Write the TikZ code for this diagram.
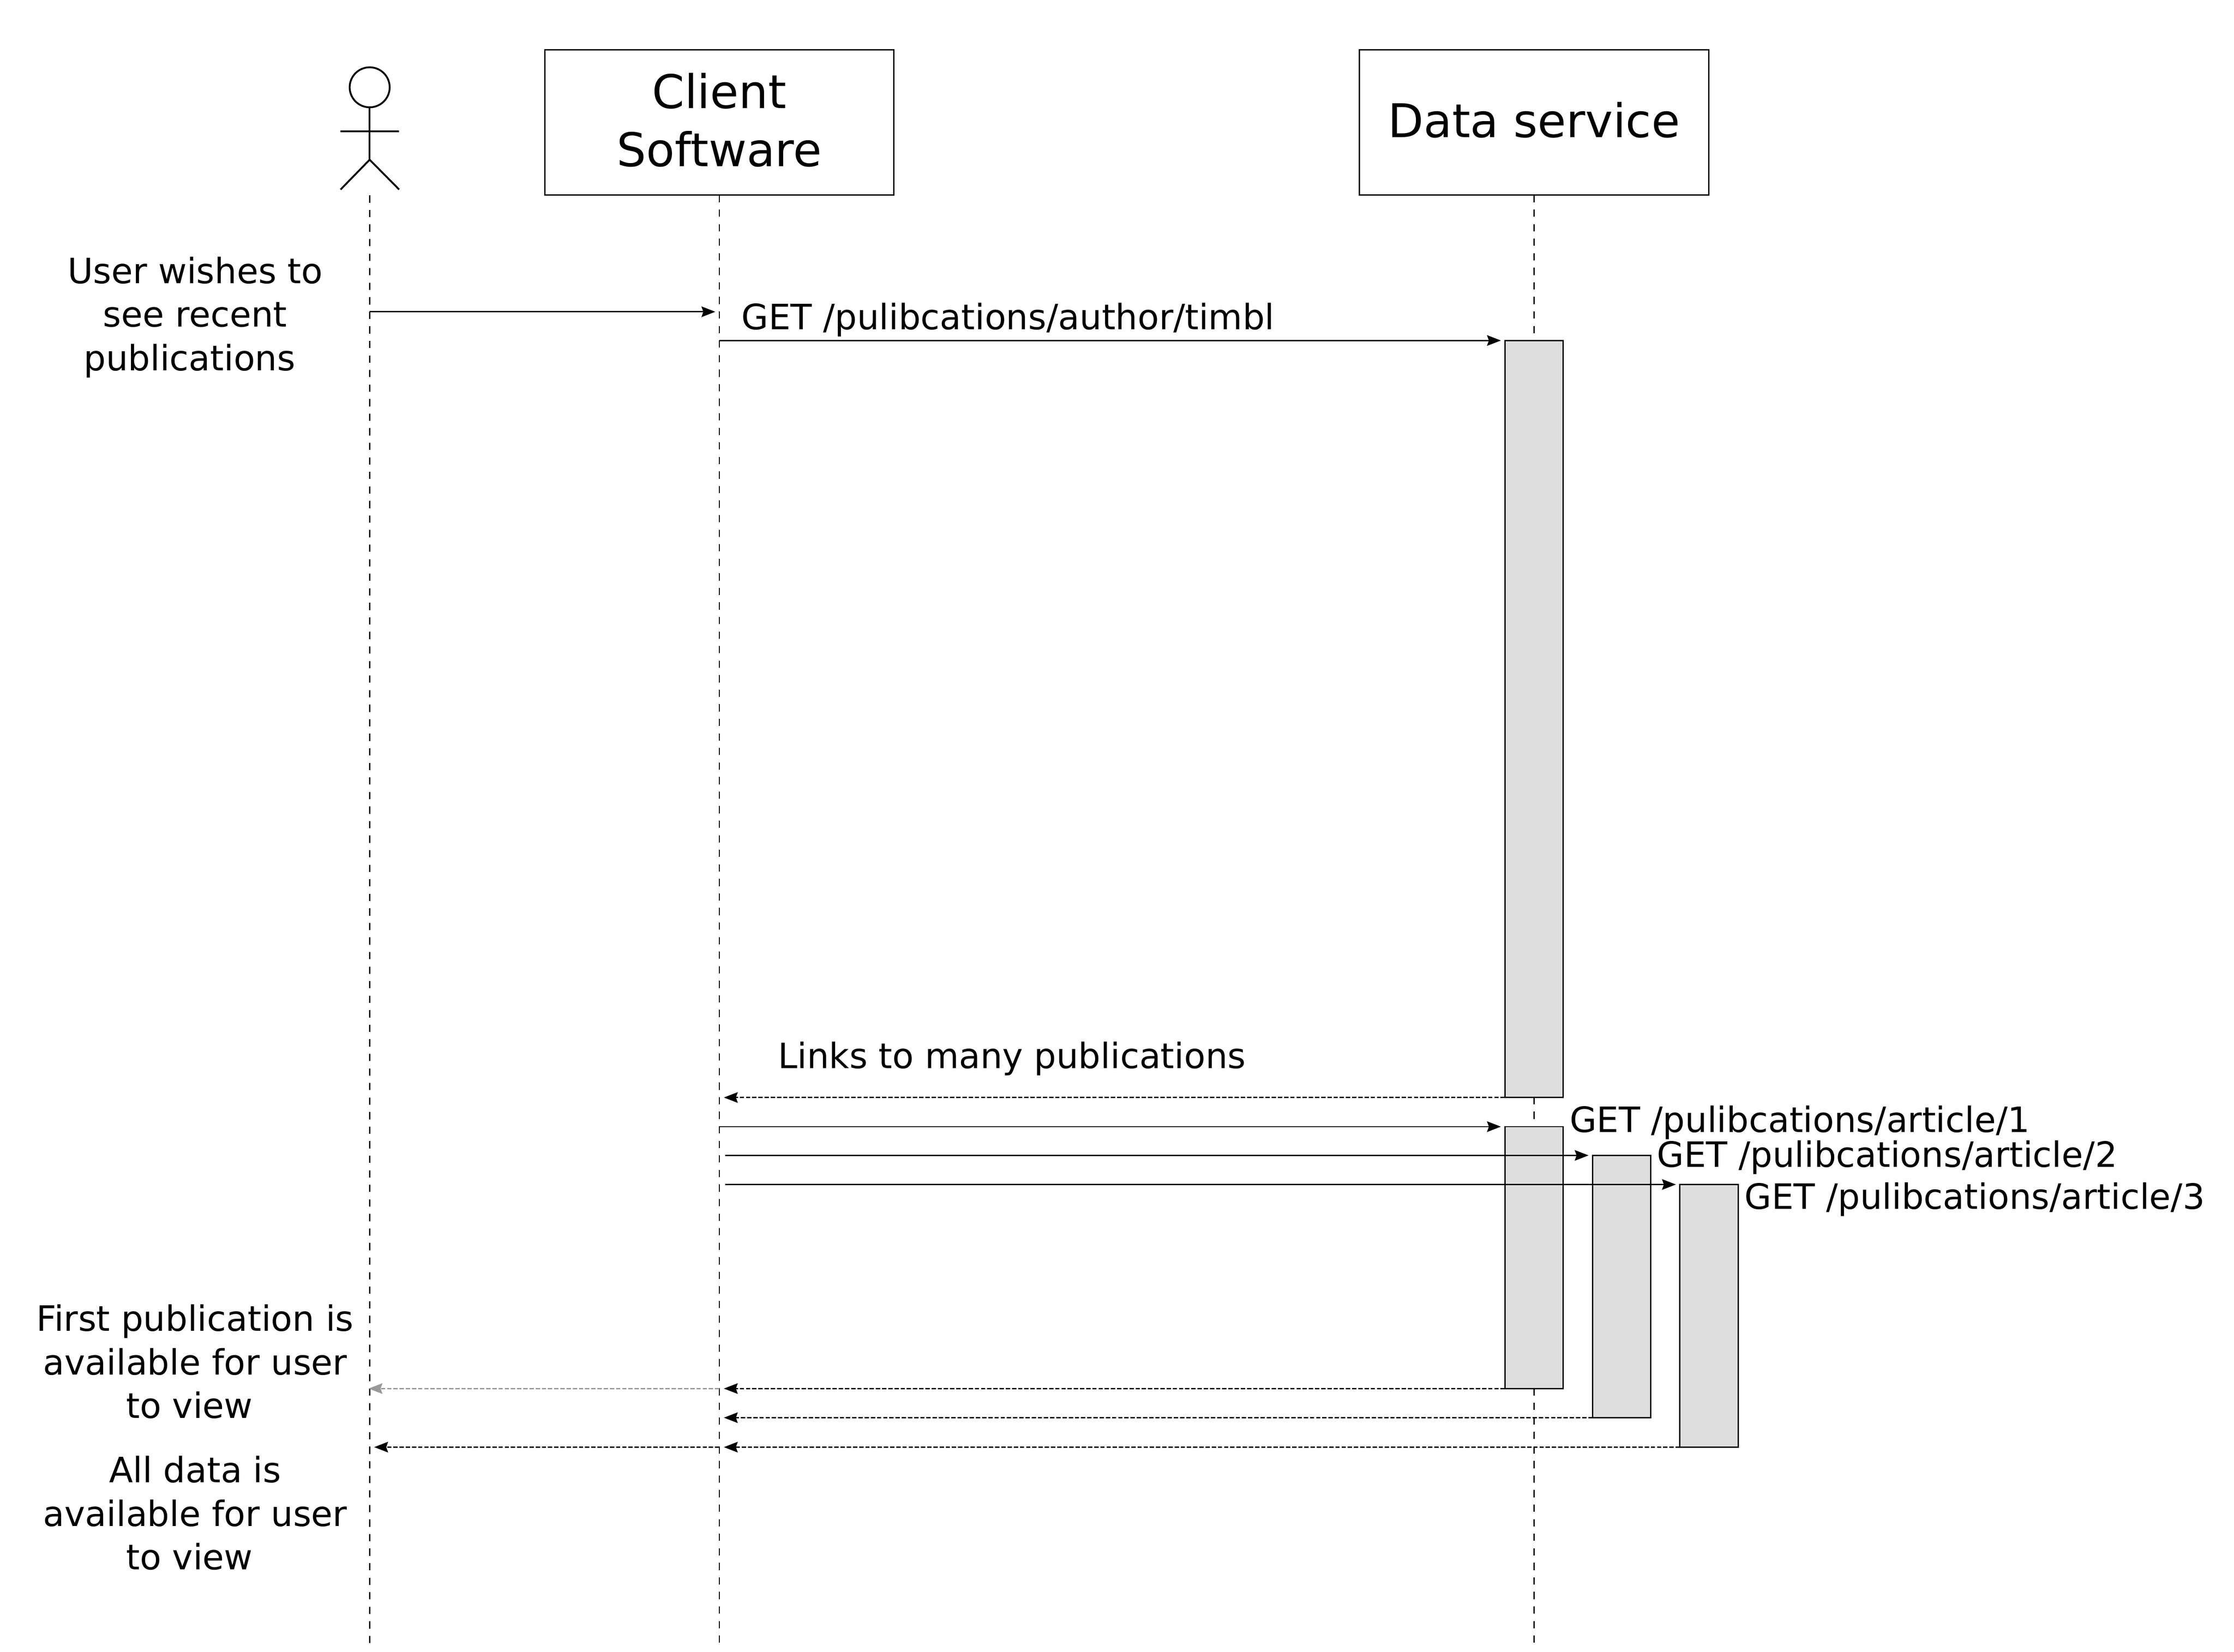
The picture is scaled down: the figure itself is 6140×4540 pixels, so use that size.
\documentclass[tikz,border=0pt]{standalone}
\usepackage{fontspec}
\setmainfont{DejaVu Sans}
\usetikzlibrary{arrows.meta}
\newcommand{\lsp}{\kern.318em}
\tikzset{
  >={Stealth[length=3.8pt,width=2.9pt,inset=.5pt]},
  box/.style={draw,line width=.35pt,outer sep=0pt,minimum width=96pt,minimum height=39.9pt,inner sep=0pt,text depth=1.5pt,align=center,font=\fontsize{12.77}{16.05}\selectfont},
  bar/.style={draw,line width=.35pt,outer sep=0pt,fill=black!13,anchor=north west,minimum width=16pt,inner sep=0pt},
  note/.style={inner sep=0pt,align=center,font=\fontsize{9.6}{11.97}\selectfont},
  msg/.style={inner sep=0pt,anchor=base west,font=\fontsize{9.6}{12}\selectfont},
  lifeline/.style={line width=.33pt,dash pattern=on 2pt off 2pt},
  call/.style={->,line width=.35pt,shorten >=1.1pt},
  reply/.style={->,line width=.35pt,dash pattern=on 1.2pt off .5pt,shorten >=1.25pt},
}
\begin{document}
\begin{tikzpicture}[x=.1pt,y=-.1pt]
    \useasboundingbox (0,0) rectangle (6140,4540);
    % participants
    \node [box] (client) at (1977,336.5) {Client\\Software};
    \node [box] (data) at (4216,336.5) {Data service};
    % stick figure
    \node [draw,circle,line width=.5pt,outer sep=0pt,minimum size=11pt,inner sep=0pt] (head) at (1016,240) {};
    \coordinate (hip) at (1016,439);
    \coordinate (armL) at (936,361);
    \coordinate (armR) at (1097,361);
    \coordinate (legL) at (936,521);
    \coordinate (legR) at (1097,521);
    \draw [line width=.5pt] (head.south) -- (hip);
    \draw [line width=.5pt] (armL) -- (armR);
    \draw [line width=.5pt] (legL) -- (hip) -- (legR);
    % lifelines
    \coordinate (actor) at (1016,537);
    \coordinate (actorEnd) at (1016,4516);
    \coordinate (clientEnd) at (1977,4516);
    \coordinate (dataEnd) at (4216,4516);
    \draw [lifeline] (actor) -- (actorEnd);
    \draw [lifeline] (client.south) -- (clientEnd);
    \draw [lifeline] (data.south) -- (dataEnd);
    % activation bars
    \node [bar,minimum height=208.1pt] (act0) at (4136,936) {};
    \node [bar,minimum height=72pt] (act1) at (4136,3097) {};
    \node [bar,minimum height=72.1pt] (act2) at (4377,3176) {};
    \node [bar,minimum height=72.2pt] (act3) at (4617,3256) {};
    % calls
    \coordinate (wish) at (1016,857);
    \draw [call] (wish) -- (client.south |- wish);
    \draw [call] (client.south |- act0.north west) -- (act0.north west);
    \draw [call] (client.south |- act1.north west) -- (act1.north west);
    \draw [call,shorten <=1.6pt] (client.south |- act2.north west) -- (act2.north west);
    \draw [call,shorten <=1.6pt] (client.south |- act3.north west) -- (act3.north west);
    % replies
    \draw [reply] (act0.south west) -- (client.south |- act0.south west);
    \draw [reply] (act1.south west) -- (client.south |- act1.south west);
    \draw [reply] (act2.south west) -- (client.south |- act2.south west);
    \draw [reply] (act3.south west) -- (client.south |- act3.south west);
    \draw [reply,black!40,shorten >=-.3pt] (client.south |- act1.south west) -- (actor |- act1.south west);
    \draw [reply] (client.south |- act3.south west) -- (actor |- act3.south west);
    % labels
    \node [note] (wishes) at (521,872) {\lsp User wishes to\\\lsp see recent\\publications};
    \node [note] (first) at (521,3743) {\lsp First publication is\\\lsp available for user\\to view};
    \node [note] (alldata) at (521,4159) {\lsp All data is\\\lsp available for user\\to view};
    \node [msg] (getauthor) at (2036,906) {GET /pulibcations/author/timbl};
    \node [msg] (links) at (2136,2937) {Links to many publications};
    \node [msg] (get1) at (4312,3112) {GET /pulibcations/article/1};
    \node [msg] (get2) at (4552,3208) {GET /pulibcations/article/2};
    \node [msg] (get3) at (4793,3323) {GET /pulibcations/article/3};
\end{tikzpicture}
\end{document}
